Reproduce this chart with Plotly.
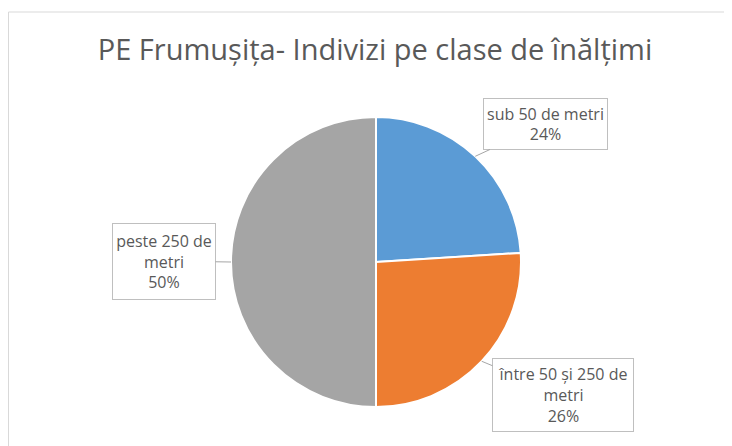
import math
import plotly.graph_objects as go

title = "PE Frumușița- Indivizi pe clase de înălțimi"
categories = ["sub 50 de metri", "între 50 și 250 de metri", "peste 250 de metri"]
label_text = ["sub 50 de metri", "între 50 și 250 de<br>metri", "peste 250 de<br>metri"]
values = [24, 26, 50]
colors = ["#5B9BD5", "#ED7D31", "#A5A5A5"]

OFF = 8  # page body margin
W, H = 732 - OFF, 446 - OFF


def px_x(X):
    return (X - OFF) / W


def px_y(Y):
    return 1 - (Y - OFF) / H


cx, cy, r = 376, 262, 145  # pie centre / radius in window pixels

fig = go.Figure(go.Pie(
    labels=categories, values=values, sort=False, direction="clockwise",
    rotation=0, marker=dict(colors=colors, line=dict(color="white", width=2)),
    textinfo="none", hoverinfo="label+percent", showlegend=False,
    domain=dict(x=[px_x(cx - r), px_x(cx + r)], y=[px_y(cy + r), px_y(cy - r)]),
))

# label boxes: centres (window px) and inner sizes
box_centres = [(545, 124), (563, 395), (164, 261)]
sizes = [(117, 44), (134, 66), (96, 69)]
total = sum(values)
cum = 0
for i, v in enumerate(values):
    mid = (cum + v / 2) / total * 2 * math.pi
    cum += v
    hx = cx + r * math.sin(mid)
    hy = cy - r * math.cos(mid)
    pct = round(100 * v / total)
    fig.add_annotation(
        x=px_x(hx), y=px_y(hy), xref="paper", yref="paper",
        text=f"{label_text[i]}<br>{pct}%",
        showarrow=True, arrowhead=0, arrowwidth=1, arrowcolor="#A6A6A6",
        ax=box_centres[i][0] - hx, ay=box_centres[i][1] - hy,
        bordercolor="#BFBFBF", borderwidth=1, borderpad=3, bgcolor="white",
        width=sizes[i][0], height=sizes[i][1], align="center",
        font=dict(family="Open Sans", size=16, color="#595959"),
    )

fig.add_shape(type="rect", xref="paper", yref="paper",
              x0=px_x(8.5), x1=px_x(730.5), y0=px_y(460), y1=px_y(12),
              line=dict(color="#D9D9D9", width=1))

fig.update_layout(
    width=W, height=H, margin=dict(l=0, r=0, t=0, b=0),
    paper_bgcolor="white", plot_bgcolor="white",
    title=dict(text=title, x=px_x(375), xanchor="center", y=px_y(50), yanchor="middle",
               font=dict(family="Open Sans", size=29, color="#595959")),
)

fig.write_html("out.html")
